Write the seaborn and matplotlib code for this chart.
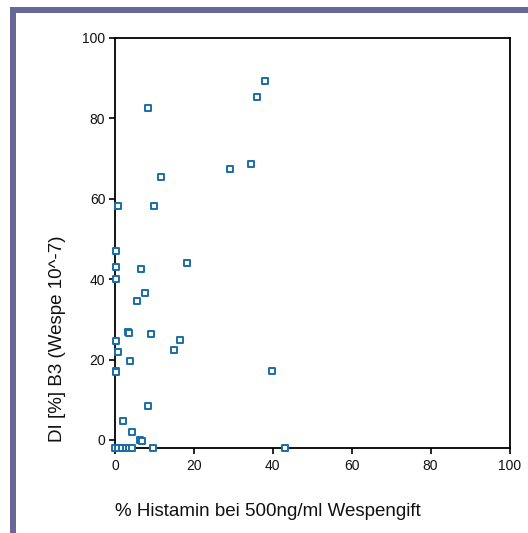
import matplotlib
matplotlib.use("Agg")
import matplotlib.pyplot as plt
import seaborn as sns
import pandas as pd
from matplotlib.patches import Rectangle

histamin = [38.0, 36.0, 8.3, 11.75, 29.1, 34.6, 0.85, 10.0, 0.3, 0.3,
            6.6, 18.35, 0.3, 7.6, 5.6, 3.2, 3.55, 9.1, 16.5, 0.3,
            0.85, 14.9, 3.8, 0.3, 0.3, 39.7, 8.4, 2.1, 4.2, 6.3,
            6.9, 9.7, 43.2, 0.0, 0.8, 1.8, 2.8, 3.6, 4.2]
di_b3 = [89.2, 85.2, 82.5, 65.4, 67.3, 68.6, 58.2, 58.2, 47.0, 42.9,
         42.6, 43.9, 39.9, 36.5, 34.5, 26.8, 26.7, 26.3, 24.9, 24.6,
         21.9, 22.3, 19.6, 17.2, 16.9, 17.2, 8.45, 4.7, 1.9, 0.0,
         -0.3, -2.0, -2.0, -2.0, -2.0, -2.0, -2.0, -2.0, -2.0]
x_ticks = [0, 20, 40, 60, 80, 100]
y_ticks = [0, 20, 40, 60, 80, 100]
x_label = "% Histamin bei 500ng/ml Wespengift"
y_label = "DI [%] B3 (Wespe 10^-7)"

df = pd.DataFrame({"x": histamin, "y": di_b3})

sns.set_theme(style="white")
plt.rcParams['font.family'] = ['Liberation Sans', 'DejaVu Sans']

fig = plt.figure(figsize=(5.28, 5.33), dpi=100)
fig.patch.set_facecolor("white")
W, H = 528, 533
ax = fig.add_axes([115 / W, 1 - 448 / H, (509.5 - 115) / W, (448 - 37.7) / H])

sns.scatterplot(data=df, x="x", y="y", ax=ax, marker="s", s=19,
                facecolor="white", edgecolor="#1a6ea8", linewidth=1.4,
                clip_on=False, zorder=5)

ax.set_xlim(0, 100)
ax.set_ylim(-2, 100)
ax.set_xticks(x_ticks)
ax.set_yticks(y_ticks)
ax.set_xlabel("")
ax.set_ylabel("")
for s in ax.spines.values():
    s.set_color("black")
    s.set_linewidth(1.3)
ax.tick_params(axis="both", which="both", direction="out", length=4, width=1.2,
               color="black", labelsize=10, labelcolor="#111111",
               bottom=True, left=True, top=False, right=False)
ax.tick_params(axis="x", pad=4)
ax.tick_params(axis="y", pad=3)

fig.text(268 / W, 1 - 512 / H, x_label, ha="center", va="center",
         fontsize=13.5, color="#111111")
fig.text(58 / W, 1 - 339 / H, y_label, ha="center", va="center",
         rotation=90, fontsize=13.5, color="#111111")

purple = "#68679a"
fig.patches.append(Rectangle((10 / W, 0), 6 / W, 1 - 7 / H, transform=fig.transFigure,
                             facecolor=purple, edgecolor="none", zorder=0))
fig.patches.append(Rectangle((10 / W, 1 - 12.5 / H), 1 - 10 / W, 5.5 / H,
                             transform=fig.transFigure,
                             facecolor=purple, edgecolor="none", zorder=0))

fig.savefig("out.png", dpi=100)
